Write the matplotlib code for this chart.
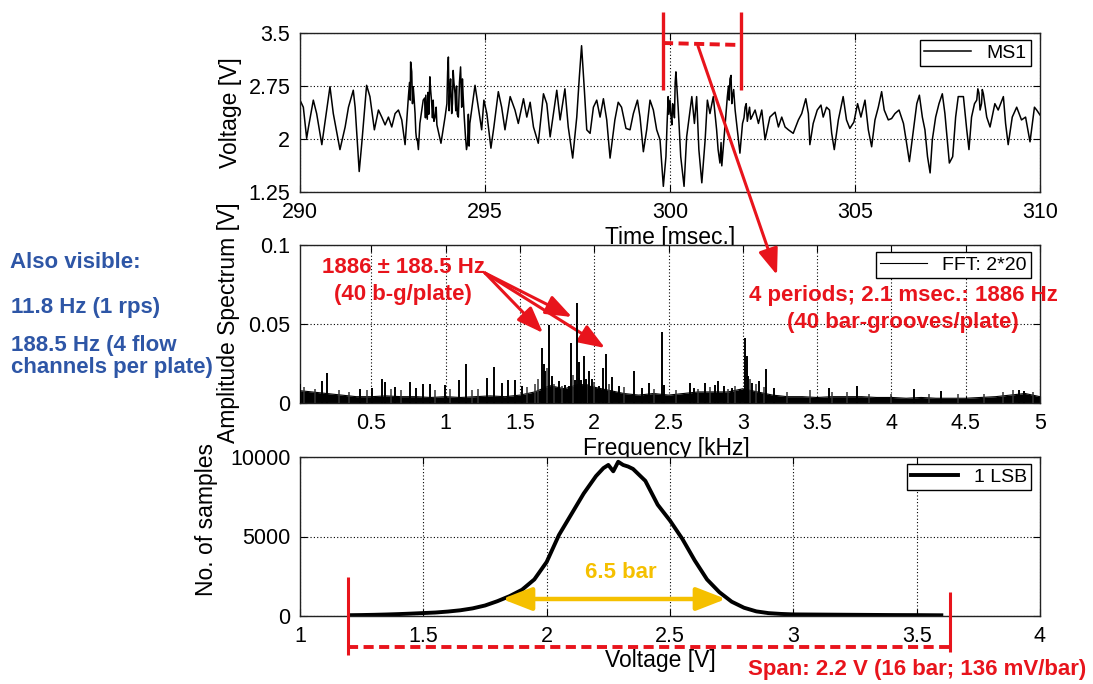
import matplotlib
matplotlib.use("Agg")
import matplotlib.pyplot as plt
import matplotlib.image as mpimg

plt.rcParams['font.family'] = ['Liberation Sans', 'DejaVu Sans']

# ---------------- data ----------------
# MS1 time signal (msec, V), three consecutive stretches
ms1_t_a = [290.00, 290.09, 290.18, 290.23, 290.36, 290.45, 290.59, 290.81, 290.90, 291.08,
           291.22, 291.31, 291.44, 291.49, 291.60, 291.67, 291.80, 291.89, 292.01, 292.12,
           292.21, 292.30, 292.39, 292.48, 292.57, 292.66, 292.75, 292.84, 292.93, 292.99,
           293.06, 293.11, 293.15, 293.20, 293.24, 293.33, 293.42, 293.51, 293.56, 293.65,
           293.81, 293.92, 294.01, 294.05, 294.10, 294.14, 294.19, 294.28, 294.34, 294.41,
           294.50, 294.59, 294.73, 294.82, 294.91, 294.97, 295.05, 295.16, 295.24, 295.36,
           295.45, 295.54, 295.68, 295.81, 295.90, 296.04, 296.13, 296.22, 296.31, 296.44,
           296.58]
ms1_v_a = [2.55, 2.45, 2.01, 2.17, 2.55, 2.36, 1.92, 2.74, 2.36, 1.85,
           2.17, 2.45, 2.69, 2.45, 1.54, 1.94, 2.76, 2.60, 2.13, 2.41,
           2.31, 2.20, 2.31, 2.17, 2.36, 2.41, 2.27, 1.92, 2.60, 3.09,
           2.74, 2.36, 1.99, 1.85, 2.22, 2.55, 2.45, 2.88, 2.50, 2.31,
           1.94, 2.31, 3.16, 2.69, 2.36, 2.97, 2.64, 2.31, 3.02, 2.60,
           1.85, 2.22, 2.76, 2.45, 2.13, 2.55, 2.36, 1.87, 2.17, 2.67,
           2.45, 2.13, 2.60, 2.41, 2.22, 2.57, 2.31, 2.52, 2.17, 1.94,
           2.64]
ms1_t_b = [296.67, 296.76, 296.85, 296.94, 297.03, 297.16, 297.25, 297.37, 297.48, 297.55,
           297.61, 297.68, 297.75, 297.84, 297.93, 298.02, 298.11, 298.20, 298.29, 298.38,
           298.51, 298.60, 298.69, 298.81, 298.92, 299.01, 299.12, 299.19, 299.28, 299.37,
           299.46, 299.55, 299.64, 299.73, 299.82, 299.89, 299.95, 300.02, 300.09, 300.16,
           300.22, 300.29, 300.38, 300.45, 300.51, 300.59, 300.66, 300.72, 300.78, 300.86,
           300.95, 301.01, 301.08, 301.17, 301.26, 301.35, 301.42, 301.49, 301.55, 301.62,
           301.69, 301.76, 301.82, 301.89, 301.96, 302.03, 302.12, 302.21, 302.30, 302.39,
           302.48, 302.57, 302.70, 302.84, 302.93, 303.02, 303.11, 303.20]
ms1_v_b = [2.50, 2.03, 2.36, 2.69, 2.27, 2.71, 2.17, 1.73, 2.31, 2.88,
           3.32, 2.74, 2.13, 2.08, 2.45, 2.55, 2.31, 2.57, 2.27, 1.73,
           2.27, 2.52, 2.45, 2.15, 2.13, 2.36, 2.55, 2.31, 1.82, 2.13,
           2.55, 2.41, 2.13, 1.99, 1.33, 1.75, 2.60, 2.36, 2.45, 2.95,
           2.45, 1.75, 1.33, 2.03, 2.27, 2.60, 2.22, 2.60, 1.85, 1.38,
           1.99, 2.55, 2.36, 2.60, 2.13, 1.66, 1.75, 2.22, 2.60, 2.85,
           2.60, 2.41, 2.13, 1.80, 2.22, 2.45, 2.36, 2.31, 2.41, 2.22,
           2.41, 1.99, 2.31, 2.38, 2.17, 2.31, 2.17, 2.13]
ms1_t_c = [303.33, 303.47, 303.56, 303.67, 303.74, 303.78, 303.87, 303.98, 304.08, 304.14,
           304.23, 304.31, 304.37, 304.44, 304.55, 304.68, 304.77, 304.86, 304.97, 305.07,
           305.16, 305.27, 305.36, 305.45, 305.54, 305.63, 305.72, 305.79, 305.90, 305.99,
           306.08, 306.19, 306.31, 306.38, 306.47, 306.58, 306.67, 306.74, 306.82, 306.89,
           306.96, 307.03, 307.09, 307.18, 307.27, 307.36, 307.43, 307.55, 307.64, 307.72,
           307.79, 307.93, 308.02, 308.08, 308.15, 308.23, 308.32, 308.38, 308.47, 308.56,
           308.65, 308.78, 308.87, 309.01, 309.07, 309.14, 309.25, 309.37, 309.50, 309.61,
           309.73, 309.85, 309.91, 310.00]
ms1_v_c = [2.08, 2.27, 2.36, 2.57, 2.36, 1.92, 2.22, 2.41, 2.48, 2.31,
           2.45, 2.41, 2.08, 1.85, 2.27, 2.60, 2.27, 2.15, 2.24, 2.50,
           2.31, 2.55, 2.13, 1.89, 2.27, 2.45, 2.67, 2.41, 2.27, 2.29,
           2.36, 2.41, 2.22, 1.99, 1.68, 2.13, 2.50, 2.62, 2.31, 2.13,
           1.75, 1.52, 1.99, 2.31, 2.50, 2.64, 2.36, 1.66, 1.75, 2.31,
           2.60, 2.60, 2.13, 1.85, 2.31, 2.50, 2.71, 2.41, 2.64, 2.31,
           2.17, 2.50, 2.41, 2.60, 2.22, 1.92, 2.31, 2.45, 2.27, 2.31,
           1.96, 2.45, 2.41, 2.34]
# extra samples read inside the dense (thick, noisy) stretches of the trace
ms1_t_burst = [293.37, 293.39, 293.40, 293.44, 293.46, 293.48, 293.53, 293.58, 293.60, 293.62,
               293.68, 293.70, 293.97, 293.99, 294.03, 294.07, 294.12, 294.16, 294.21, 294.23,
               294.25, 294.31, 294.37, 294.39, 294.44, 292.96, 292.98, 293.02, 293.04, 293.08,
               293.13, 293.17, 294.47, 294.53, 294.55, 294.57, 299.92, 299.97, 300.00, 300.05,
               300.07, 300.12, 300.14, 300.19, 301.30, 301.38, 301.40, 301.45, 301.52, 301.58,
               301.60, 301.65, 301.67, 301.72, 302.00, 302.06, 302.09, 302.15, 302.18, 308.29,
               308.35, 308.42, 308.44]
ms1_v_burst = [2.58, 2.30, 2.62, 2.28, 2.66, 2.35, 2.70, 2.30, 2.55, 2.25,
               2.45, 2.20, 2.50, 2.95, 2.40, 2.85, 2.50, 2.80, 2.40, 2.75,
               2.35, 2.80, 2.45, 2.85, 2.30, 2.80, 2.55, 2.95, 2.50, 2.60,
               2.10, 2.00, 2.05, 1.95, 2.35, 1.90, 2.20, 2.35, 2.55, 2.20,
               2.50, 2.30, 2.80, 2.70, 1.85, 1.95, 1.62, 1.95, 2.40, 2.75,
               2.55, 2.90, 2.50, 2.70, 2.30, 2.50, 2.25, 2.45, 2.28, 2.55,
               2.65, 2.50, 2.70]

# FFT amplitude spectrum: noise floor (kHz, V)
floor_f = [0.0, 0.1, 0.2, 0.3, 0.4, 0.5, 0.6, 0.7, 0.8, 0.9,
           1.0, 1.1, 1.2, 1.3, 1.4, 1.5, 1.6, 1.7, 1.8, 1.9,
           2.0, 2.1, 2.2, 2.3, 2.4, 2.5, 2.6, 2.7, 2.8, 2.9,
           3.0, 3.1, 3.2, 3.3, 3.4, 3.5, 3.6, 3.7, 3.8, 3.9,
           4.0, 4.1, 4.2, 4.3, 4.4, 4.5, 4.6, 4.7, 4.8, 4.9,
           5.0]
floor_a = [0.008, 0.007, 0.006, 0.005, 0.004, 0.004, 0.0045, 0.004, 0.004, 0.0035,
           0.004, 0.0035, 0.004, 0.0045, 0.004, 0.005, 0.007, 0.011, 0.009, 0.012,
           0.010, 0.008, 0.006, 0.005, 0.006, 0.005, 0.006, 0.007, 0.007, 0.007,
           0.009, 0.007, 0.005, 0.004, 0.004, 0.0035, 0.004, 0.004, 0.004, 0.0035,
           0.0035, 0.003, 0.0035, 0.003, 0.003, 0.003, 0.0035, 0.004, 0.005, 0.006,
           0.004]
# FFT spectral lines (kHz, V)
peak_f = [0.02, 0.166, 0.20, 0.424, 0.503, 0.57, 0.593, 0.66, 0.76, 0.80,
          0.85, 0.896, 0.997, 1.09, 1.138, 1.277, 1.327, 1.378, 1.419, 1.468,
          1.513, 1.648, 1.659, 1.670, 1.697, 1.715, 1.76, 1.805, 1.827, 1.845,
          1.868, 1.883, 1.899, 1.912, 1.93, 1.944, 1.962, 1.984, 2.03, 2.058,
          2.079, 2.119, 2.164, 2.265, 2.32, 2.366, 2.455, 2.467, 2.646, 2.669,
          2.743, 2.815, 2.831, 2.876, 2.927, 2.983, 3.017, 3.026, 3.035, 3.062,
          3.111, 3.159, 3.208, 3.578, 3.769, 4.15, 4.337, 4.858, 4.892]
peak_a = [0.012, 0.014, 0.019, 0.009, 0.0095, 0.015, 0.013, 0.010, 0.013, 0.0095,
          0.012, 0.012, 0.0116, 0.0148, 0.025, 0.016, 0.023, 0.0127, 0.0148, 0.0148,
          0.0105, 0.0348, 0.025, 0.020, 0.0496, 0.017, 0.014, 0.0116, 0.0105, 0.038,
          0.0148, 0.063, 0.026, 0.0148, 0.0295, 0.015, 0.020, 0.015, 0.0105, 0.022,
          0.031, 0.0165, 0.0105, 0.020, 0.0095, 0.0127, 0.045, 0.0116, 0.0127, 0.0095,
          0.0127, 0.0116, 0.0137, 0.011, 0.0095, 0.009, 0.041, 0.0295, 0.017, 0.0127,
          0.0137, 0.0215, 0.0095, 0.0095, 0.011, 0.009, 0.0074, 0.008, 0.0074]
small_f = [0.05, 0.12, 0.28, 0.35, 0.47, 0.63, 0.70, 0.93, 1.03, 1.18,
           1.22, 1.55, 1.60, 1.62, 1.68, 1.73, 1.78, 1.86, 1.90, 1.95,
           2.00, 2.10, 2.20, 2.40, 2.55, 2.70, 2.78, 2.90, 2.95, 3.05,
           3.09, 3.14, 3.30, 3.45, 3.60, 3.70, 3.85, 4.00, 4.25, 4.45,
           4.62, 4.75, 4.82, 4.95]
small_a = [0.010, 0.009, 0.008, 0.007, 0.008, 0.009, 0.008, 0.008, 0.009, 0.008,
           0.009, 0.010, 0.012, 0.015, 0.022, 0.012, 0.011, 0.018, 0.016, 0.012,
           0.013, 0.012, 0.010, 0.009, 0.008, 0.009, 0.010, 0.009, 0.011, 0.015,
           0.012, 0.010, 0.007, 0.008, 0.007, 0.007, 0.006, 0.006, 0.006, 0.006,
           0.006, 0.007, 0.008, 0.007]

# histogram (V, number of samples)
hist_v = [1.20, 1.25, 1.30, 1.35, 1.40, 1.45, 1.50, 1.55, 1.60, 1.65,
          1.70, 1.75, 1.80, 1.85, 1.90, 1.95, 2.00, 2.05, 2.10, 2.15,
          2.20, 2.23, 2.25, 2.27, 2.29, 2.31, 2.33, 2.35, 2.40, 2.45,
          2.50, 2.55, 2.60, 2.65, 2.70, 2.75, 2.80, 2.85, 2.90, 2.95,
          3.00, 3.10, 3.20, 3.30, 3.40, 3.50, 3.60]
hist_n = [50, 60, 75, 95, 120, 150, 185, 220, 280, 360,
          480, 660, 930, 1250, 1650, 2300, 3400, 5100, 6400, 7700,
          8800, 9300, 9500, 9100, 9700, 9500, 9400, 9250, 8500, 7000,
          6000, 4850, 3500, 2300, 1500, 900, 520, 290, 180, 130,
          100, 90, 80, 70, 60, 55, 45]

# ticks
t_ticks = [290, 295, 300, 305, 310]
t_ticklabels = ['290', '295', '300', '305', '310']
v_ticks = [1.25, 2, 2.75, 3.5]
v_ticklabels = ['1.25', '2', '2.75', '3.5']
f_ticks = [0.5, 1, 1.5, 2, 2.5, 3, 3.5, 4, 4.5, 5]
f_ticklabels = ['0.5', '1', '1.5', '2', '2.5', '3', '3.5', '4', '4.5', '5']
a_ticks = [0, 0.05, 0.1]
a_ticklabels = ['0', '0.05', '0.1']
h_ticks = [1, 1.5, 2, 2.5, 3, 3.5, 4]
h_ticklabels = ['1', '1.5', '2', '2.5', '3', '3.5', '4']
n_ticks = [0, 5000, 10000]
n_ticklabels = ['0', '5000', '10000']

# ---------------- figure ----------------
W, H = 1093, 684
RED = '#e8141c'
BLUE = '#2e56a6'
YEL = '#f5c000'
LABEL_FS = 16.5
fig = plt.figure(figsize=(W / 100, H / 100), dpi=100)


def box(l, t, r, b):
    return [l / W, 1 - b / H, (r - l) / W, (b - t) / H]


def style(ax):
    ax.tick_params(direction='in', top=True, right=True, length=5, width=0.8,
                   labelsize=15.5, pad=7, colors='k')
    for s in ax.spines.values():
        s.set_linewidth(1.0)
        s.set_color('#222222')
    ax.grid(True, linestyle=(0, (1, 2)), color='k', linewidth=0.8)


def legend(ax):
    lg = ax.legend(loc='upper right', bbox_to_anchor=(0.988, 0.956), borderaxespad=0,
                   fontsize=14, fancybox=False, framealpha=1, edgecolor='k',
                   handlelength=2.4, handletextpad=0.8, borderpad=0.22)
    lg.get_frame().set_linewidth(1.0)
    return lg


arrow_red = dict(arrowstyle='-|>,head_length=0.8,head_width=0.3', color=RED,
                 lw=2.2, shrinkA=0, shrinkB=0, mutation_scale=20)

# --- time signal ---
ax1 = fig.add_axes(box(300, 33, 1040, 192))
pts = sorted(zip(ms1_t_a + ms1_t_b + ms1_t_c + ms1_t_burst,
                 ms1_v_a + ms1_v_b + ms1_v_c + ms1_v_burst))
ax1.plot([p[0] for p in pts], [p[1] for p in pts], color='k', lw=1.1, label='MS1')
ax1.set_xlim(290, 310)
ax1.set_ylim(1.25, 3.5)
ax1.set_xticks(t_ticks, t_ticklabels)
ax1.set_yticks(v_ticks, v_ticklabels)
style(ax1)
ax1.set_xlabel('Time [msec.]', fontsize=LABEL_FS)
ax1.xaxis.set_label_coords(0.5, -0.215)
ax1.set_ylabel('Voltage [V]', fontsize=LABEL_FS)
ax1.yaxis.set_label_coords(-0.078, 0.5)
legend(ax1)

# --- spectrum ---
ax2 = fig.add_axes(box(300, 245, 1040, 403))
ax2.fill_between(floor_f, 0, floor_a, color='k', lw=0)
ax2.plot(floor_f, floor_a, color='k', lw=0.8, label='FFT: 2*20')
ax2.vlines(small_f, 0, small_a, color='#333333', lw=1.1, zorder=3)
ax2.vlines(peak_f, 0, peak_a, color='k', lw=1.4, zorder=5)
ax2.set_xlim(0.02, 5)
ax2.set_ylim(0, 0.1)
ax2.set_xticks(f_ticks, f_ticklabels)
ax2.set_yticks(a_ticks, a_ticklabels)
style(ax2)
ax2.set_xlabel('Frequency [kHz]', fontsize=LABEL_FS)
ax2.xaxis.set_label_coords(0.495, -0.215)
ax2.set_ylabel('Amplitude Spectrum [V]', fontsize=LABEL_FS)
ax2.yaxis.set_label_coords(-0.081, 0.51)
legend(ax2)
# arrows from the "1886 +/- 188.5 Hz" note to the three spectral lines (under the lines)
for tip in [(543, 333), (572, 317), (605, 348)]:
    ax2.annotate('', xy=(tip[0], H - tip[1]), xycoords='figure pixels',
                 xytext=(485, H - 273), textcoords='figure pixels',
                 arrowprops=arrow_red, zorder=4, annotation_clip=False)

# --- histogram ---
ax3 = fig.add_axes(box(300, 457, 1040, 616))
ax3.plot(hist_v, hist_n, color='k', lw=2.8, label='1 LSB')
ax3.set_xlim(1, 4)
ax3.set_ylim(0, 10000)
ax3.set_xticks(h_ticks, h_ticklabels)
ax3.set_yticks(n_ticks, n_ticklabels)
style(ax3)
ax3.set_xlabel('Voltage [V]', fontsize=LABEL_FS)
ax3.xaxis.set_label_coords(0.487, -0.21)
ax3.set_ylabel('No. of samples', fontsize=LABEL_FS)
ax3.yaxis.set_label_coords(-0.111, 0.61)
legend(ax3)

# ---------------- annotation overlay (pixel coordinates) ----------------
ov = fig.add_axes([0, 0, 1, 1], zorder=20)
ov.set_xlim(0, W)
ov.set_ylim(H, 0)
ov.axis('off')
ov.patch.set_alpha(0)

bold = dict(fontsize=16, fontweight='bold')

# period markers on time signal
ov.plot([663, 663], [12, 90], color=RED, lw=2.4, solid_capstyle='butt')
ov.plot([741, 741], [12, 90], color=RED, lw=2.4, solid_capstyle='butt')
ov.plot([663, 741], [43, 45], color=RED, lw=2.8, ls=(0, (2.6, 1.4)))
ov.annotate('', xy=(777, 275), xytext=(698, 46), arrowprops=arrow_red)
ov.text(903, 301, '4 periods; 2.1 msec.: 1886 Hz', color=RED, ha='center', va='baseline', **bold)
ov.text(903, 328, '(40 bar-grooves/plate)', color=RED, ha='center', va='baseline', **bold)

# spectral line note
ov.text(403, 273, '1886 \u00b1 188.5 Hz', color=RED, ha='center', va='baseline', **bold)
ov.text(403, 300, '(40 b-g/plate)', color=RED, ha='center', va='baseline', **bold)

# left notes
ov.text(10, 268, 'Also visible:', color=BLUE, ha='left', va='baseline', **bold)
ov.text(11, 313, '11.8 Hz (1 rps)', color=BLUE, ha='left', va='baseline', **bold)
ov.text(11, 351, '188.5 Hz (4 flow', color=BLUE, ha='left', va='baseline', **bold)
ov.text(11, 373, 'channels per plate)', color=BLUE, ha='left', va='baseline', **bold)

# histogram width
ov.annotate('', xy=(726, 599), xytext=(502, 599),
            arrowprops=dict(arrowstyle='<|-|>,head_length=0.9,head_width=0.35', color=YEL,
                            lw=3.2, shrinkA=0, shrinkB=0, mutation_scale=20))
ov.text(621, 578, '6.5 bar', color=YEL, ha='center', va='baseline', **bold)

# span
ov.plot([348, 348], [577, 655], color=RED, lw=2.2, solid_capstyle='butt')
ov.plot([950, 950], [592, 652], color=RED, lw=2.2, solid_capstyle='butt')
ov.plot([348, 950], [647, 647], color=RED, lw=2.8, ls=(0, (2.6, 1.4)))
ov.text(748, 675, 'Span: 2.2 V (16 bar; 136 mV/bar)', color=RED, ha='left', va='baseline', **bold)

fig.savefig('out.png', dpi=100)

# sanity check that the tallest spectral lines are visible in the saved image
_img = mpimg.imread('out.png')
_seen = [y for y in range(306, 318)
         if any(_img[y, x, :3].max() < 0.45 for x in range(574, 580))]
if len(_seen) < 6:
    raise SystemExit('tall line missing; rows seen: %s' % _seen)
